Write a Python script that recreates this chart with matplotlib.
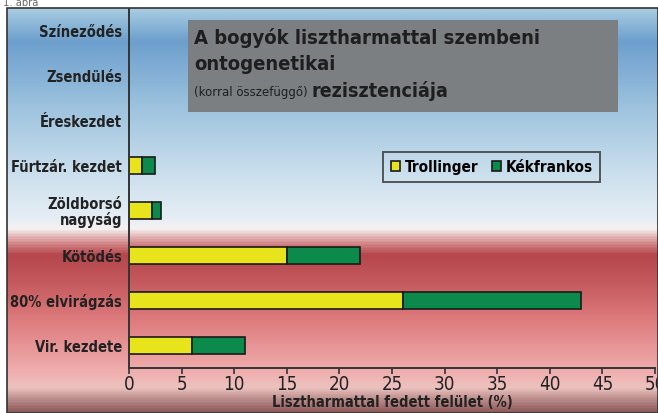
import matplotlib
matplotlib.use("Agg")
import matplotlib.pyplot as plt
import numpy as np
from matplotlib.colors import LinearSegmentedColormap
from matplotlib.patches import Rectangle

stages = ["Vir. kezdete", "80% elvirágzás", "Kötödés", "Zöldborsó\nnagyság",
          "Fürtzár. kezdet", "Éreskezdet", "Zsendülés", "Színeződés"]
trollinger = [6, 26, 15, 2.2, 1.2, 0, 0, 0]
kekfrankos = [5, 17, 7, 0.8, 1.3, 0, 0, 0]
xticks = list(range(0, 51, 5))

FONT = ["Liberation Sans Narrow", "DejaVu Sans"]
plt.rcParams["font.family"] = FONT
plt.rcParams["font.stretch"] = "condensed"

W, H = 658, 413
fig = plt.figure(figsize=(W / 100, H / 100), dpi=100)
fig.patch.set_facecolor("white")

# background gradient of the frame (top: blue, middle: white, lower: red)
bg = fig.add_axes([7 / W, 0, 1 - 7 / W, (H - 8) / H])
stops = [(0.00, "#a8cce2"), (0.08, "#6d9fcd"), (0.25, "#9fc4df"),
         (0.40, "#c9deec"), (0.52, "#e6eef5"), (0.545, "#f6f1f1"),
         (0.58, "#d48a8c"), (0.61, "#b5464c"), (0.68, "#c55a5e"),
         (0.78, "#df7e80"), (0.90, "#f0aeae"), (0.94, "#ecc2bf"),
         (0.97, "#b88a88"), (1.00, "#8e5a5a")]
cmap = LinearSegmentedColormap.from_list("bg", stops)
grad = np.linspace(0, 1, 400).reshape(-1, 1)
bg.imshow(grad, aspect="auto", cmap=cmap, extent=[0, 1, 1, 0])
bg.set_xlim(0, 1)
bg.set_ylim(1, 0)
bg.axis("off")
fig.add_artist(Rectangle((7 / W, 0), 1 - 7 / W, (H - 8) / H,
                         transform=fig.transFigure, fill=False,
                         edgecolor="#333333", lw=1.2))
fig.text(3 / W, 1 - 3 / H, "1. ábra", fontsize=8, color="#666666", va="center")

ax = fig.add_axes([129 / W, 1 - 368 / H, (655 - 129) / W, (368 - 8.6) / H])
ax.patch.set_alpha(0)
y = np.arange(len(stages))
ax.barh(y, trollinger, height=0.38, color="#e8e41c", edgecolor="#1a1a1a",
        lw=1.2, label="Trollinger")
ax.barh(y, kekfrankos, left=trollinger, height=0.38, color="#0b8a4c",
        edgecolor="#1a1a1a", lw=1.2, label="Kékfrankos")

ax.set_xlim(0, 50)
ax.set_ylim(-0.5, 7.5)
ax.set_xticks(xticks)
ax.set_xticklabels([str(t) for t in xticks], fontsize=13.5, color="#222222")
ax.set_yticks(y)
ax.set_yticklabels(stages, fontsize=10.5, fontweight="bold", color="#222222",
                   linespacing=1.0)
ax.tick_params(axis="y", length=0, pad=5)
ax.tick_params(axis="x", length=4, width=1.2, color="#333333", pad=1)
for s in ("top", "right"):
    ax.spines[s].set_visible(False)
for s in ("left", "bottom"):
    ax.spines[s].set_color("#333333")
    ax.spines[s].set_linewidth(1.4)
ax.set_xlabel("Lisztharmattal fedett felület (%)", fontsize=10.5,
              fontweight="bold", color="#222222", labelpad=1)

# title box
fig.add_artist(Rectangle((188 / W, 1 - 112 / H), (618 - 188) / W, 92 / H,
                         transform=fig.transFigure, facecolor="#7b7f82",
                         edgecolor="none"))
fig.text(194 / W, 1 - 38 / H, "A bogyók lisztharmattal szembeni",
         fontsize=14.5, fontweight="bold", color="#1e1e1e", va="center")
fig.text(194 / W, 1 - 64 / H, "ontogenetikai",
         fontsize=14.5, fontweight="bold", color="#1e1e1e", va="center")
t = fig.text(194 / W, 1 - 92 / H, "(korral összefüggő) ",
             fontsize=8.5, stretch="normal", color="#1e1e1e", va="center")
fig.canvas.draw()
bb = t.get_window_extent()
fig.text(bb.x1 / W, 1 - 91 / H, "rezisztenciája",
         fontsize=14, fontweight="bold", color="#1e1e1e", va="center")

leg = ax.legend(loc="upper left", bbox_to_anchor=((383 - 129) / (655 - 129),
                (368 - 152) / (368 - 8.6)), borderaxespad=0,
                ncol=2, frameon=True, fancybox=False, handlelength=0.6,
                handleheight=0.6, handletextpad=0.3, columnspacing=0.9,
                prop={"weight": "bold", "size": 11, "family": FONT,
                      "stretch": "condensed"},
                borderpad=0.5)
leg.get_frame().set_facecolor("none")
leg.get_frame().set_edgecolor("#333333")
leg.get_frame().set_linewidth(1.4)

fig.savefig("out.png", dpi=100)
